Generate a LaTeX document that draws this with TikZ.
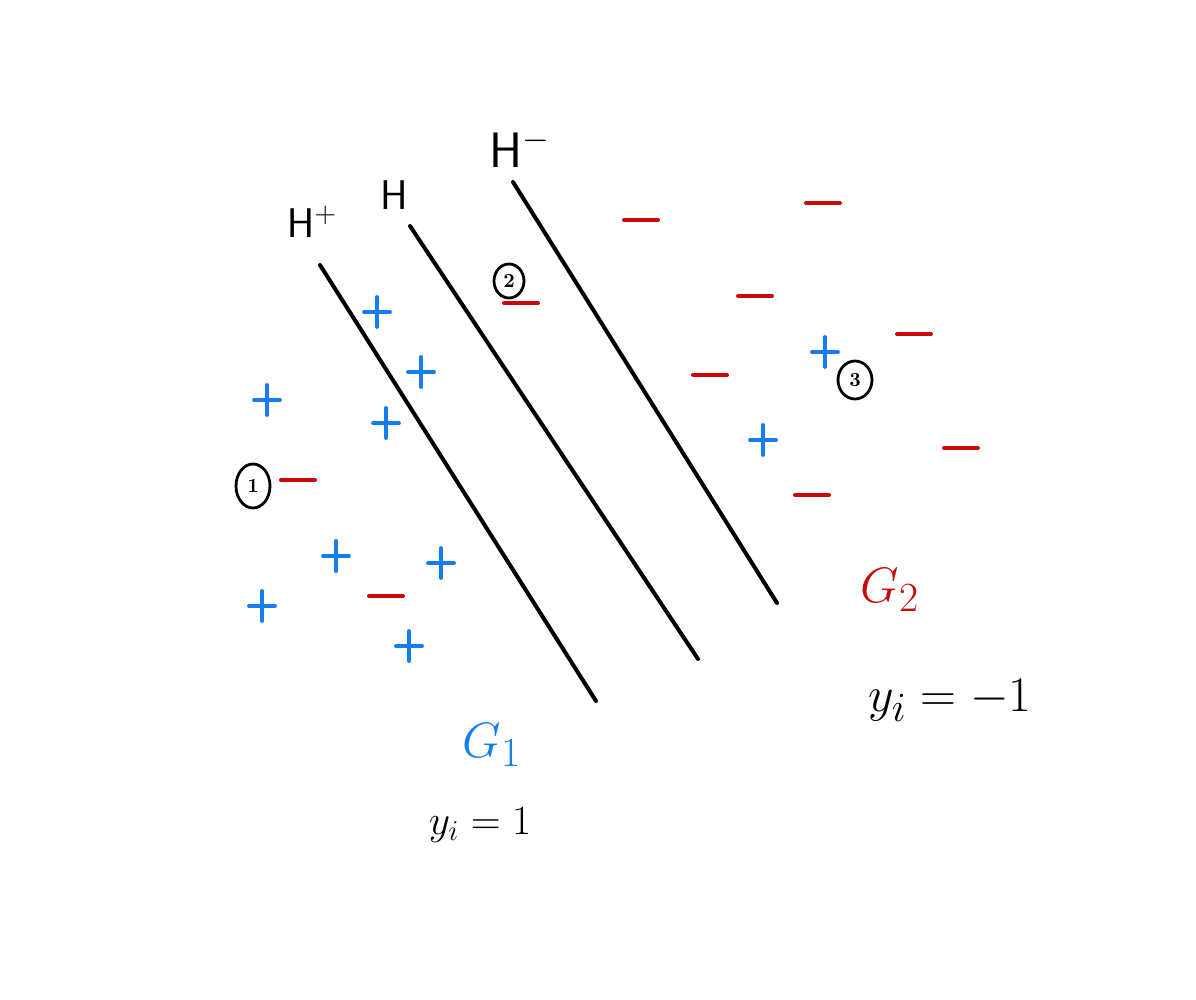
\documentclass[tikz,border=0pt]{standalone}
\usepackage{xcolor}
\usetikzlibrary{shapes.geometric}
\definecolor{pblue}{RGB}{20,125,240}
\definecolor{mred}{RGB}{200,10,10}
\begin{document}
\begin{tikzpicture}[x=0.5pt,y=-0.5pt,
  sep/.style={line width=2pt,black,line cap=round},
  plusmark/.style={line width=1.9pt,pblue,line cap=round},
  minusmark/.style={line width=2pt,mred,line cap=round},
  lbl/.style={inner sep=0pt,font=\fontsize{22}{24}\selectfont},
  circnum/.style={draw,ellipse,line width=1.4pt,inner sep=1.5pt,font=\fontsize{10}{12}\selectfont\bfseries}]
\useasboundingbox (0,0) rectangle (1196,1000);
% separating lines
\coordinate (hpA) at (320,265); \coordinate (hpB) at (596,701);
\coordinate (hA) at (410,226);  \coordinate (hB) at (698,659);
\coordinate (hmA) at (513,182); \coordinate (hmB) at (777,603);
\draw[sep] (hpA) -- (hpB);
\draw[sep] (hA) -- (hB);
\draw[sep] (hmA) -- (hmB);
% labels
\node[lbl] (lhp) at (312,222) {$\mathsf{H}^{+}$};
\node[lbl] (lh) at (394,195) {$\mathsf{H}$};
\node[lbl,font=\fontsize{25}{27}\selectfont] (lhm) at (520,148) {$\mathsf{H}^{-}$};
\node[lbl,text=pblue,font=\fontsize{30}{32}\selectfont] (g1) at (492,745) {$G_1$};
\node[lbl,font=\fontsize{20}{22}\selectfont] (y1) at (480,825) {$y_i=1$};
\node[lbl,text=mred,font=\fontsize{28}{30}\selectfont] (g2) at (890,590) {$G_2$};
\node[lbl,font=\fontsize{28}{30}\selectfont] (y2) at (950,700) {$y_i=-1$};
% circled numbers
\node[circnum,minimum width=17pt,minimum height=22pt] (c1) at (253,486) {1};
\node[circnum,minimum width=15pt,minimum height=17pt] (c2) at (509,281) {2};
\node[circnum,minimum width=17pt,minimum height=19pt] (c3) at (855,380) {3};
% plus signs
\foreach \x/\y in {377/312,421/372,267/400,386/423,336/556,441/563,262/606,409/646,825/352,763/440}{
  \draw[plusmark] (\x-13,\y) -- (\x+13,\y);
  \draw[plusmark] (\x,\y-15) -- (\x,\y+15);
}
% minus signs
\foreach \x/\y in {641/220,823/203,521/303,755/296,710/375,914/334,298/480,386/596,812/495,961/448}{
  \draw[minusmark] (\x-17,\y) -- (\x+17,\y);
}
\end{tikzpicture}
\end{document}
